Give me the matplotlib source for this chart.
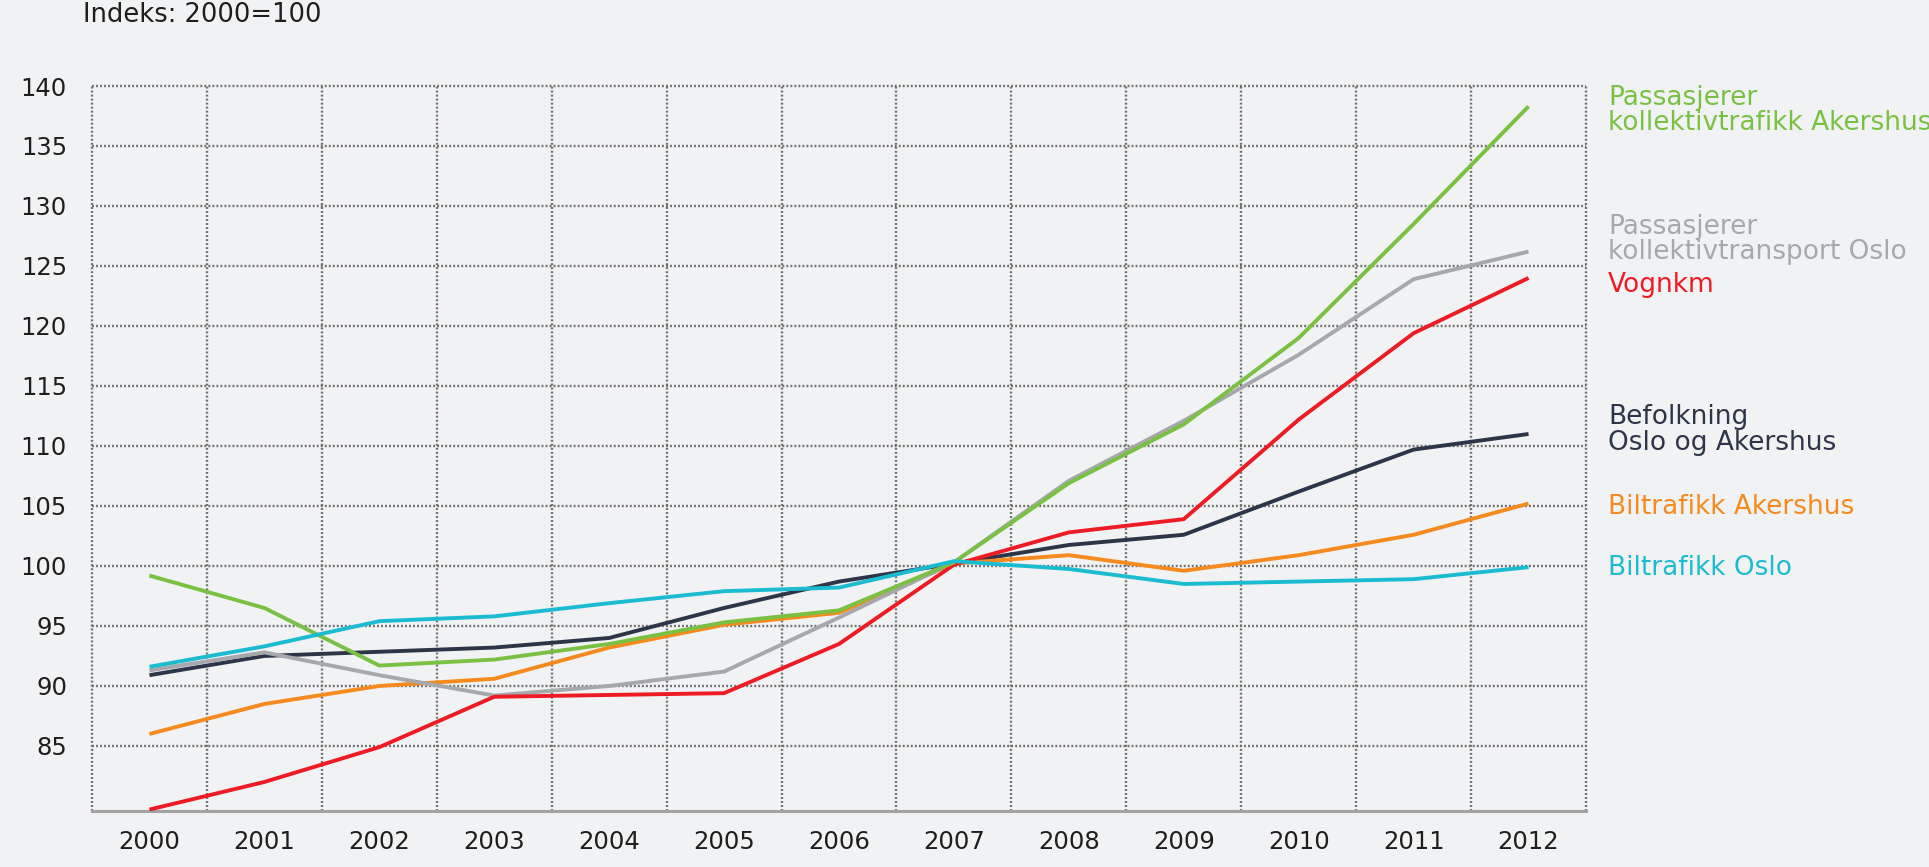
import matplotlib
matplotlib.use("Agg")
import matplotlib.pyplot as plt

# index values, 2000=100
years = [2000, 2001, 2002, 2003, 2004, 2005, 2006, 2007, 2008, 2009, 2010, 2011, 2012]
kollektiv_akershus = [99.2, 96.5, 91.7, 92.2, 93.5, 95.3, 96.3, 100.3, 106.9, 111.8, 119.0, 128.5, 138.3]
kollektiv_oslo = [91.3, 92.8, 90.9, 89.2, 90.0, 91.2, 95.7, 100.3, 107.1, 112.1, 117.6, 123.9, 126.2]
vognkm = [79.7, 82.0, 84.9, 89.1, 89.25, 89.4, 93.5, 100.1, 102.8, 103.9, 112.2, 119.4, 124.0]
befolkning = [90.9, 92.5, 92.85, 93.2, 94.0, 96.5, 98.7, 100.2, 101.75, 102.6, 106.2, 109.7, 111.0]
biltrafikk_akershus = [86.0, 88.5, 90.0, 90.6, 93.2, 95.1, 96.1, 100.2, 100.9, 99.6, 100.9, 102.6, 105.2]
biltrafikk_oslo = [91.6, 93.3, 95.4, 95.8, 96.9, 97.9, 98.2, 100.4, 99.75, 98.5, 98.7, 98.9, 99.9]

yticks = [85, 90, 95, 100, 105, 110, 115, 120, 125, 130, 135, 140]

series = [
    (befolkning, "#2d3648", "Befolkning\nOslo og Akershus", 430),
    (biltrafikk_akershus, "#f58a1f", "Biltrafikk Akershus", 507),
    (kollektiv_oslo, "#a6a8ab", "Passasjerer\nkollektivtransport Oslo", 239.5),
    (vognkm, "#ed1c24", "Vognkm", 285),
    (kollektiv_akershus, "#7ac143", "Passasjerer\nkollektivtrafikk Akershus", 110.5),
    (biltrafikk_oslo, "#1cbcd0", "Biltrafikk Oslo", 568),
]

W, H = 1929, 867
bg = "#f1f2f4"
fig = plt.figure(figsize=(W / 100, H / 100), dpi=100, facecolor=bg)
ax = fig.add_axes([92 / W, 1 - 811 / H, (1586 - 92) / W, (811 - 86) / H])
ax.set_facecolor(bg)

x = list(range(len(years)))
ax.set_xlim(-0.5, len(years) - 0.5)
ax.set_ylim(79.58, 140)

# dotted grid
for yv in yticks:
    ax.axhline(yv, color="#6e6e6e", lw=1.7, ls=(0, (0.8, 0.9)), zorder=1, clip_on=False)
for k in range(len(years) + 1):
    ax.axvline(k - 0.5, color="#6e6e6e", lw=1.7, ls=(0, (0.8, 0.9)), zorder=1, clip_on=False)

for vals, col, lab, ypix in series:
    ax.plot(x, vals, color=col, lw=2.8, zorder=3, solid_capstyle="butt")
    fig.text(1608 / W, 1 - ypix / H, lab, color=col, fontsize=19,
             ha="left", va="center", linespacing=0.95)

for s in ["left", "right", "top"]:
    ax.spines[s].set_visible(False)
ax.spines["bottom"].set_color("#a3a3a3")
ax.spines["bottom"].set_linewidth(2.2)

ax.set_xticks(x)
ax.set_xticklabels([str(y) for y in years])
ax.set_yticks(yticks)
ax.tick_params(axis="both", length=0, labelsize=17.5, labelcolor="#1e1e1e")
ax.tick_params(axis="x", pad=14)
ax.tick_params(axis="y", pad=18)

fig.text(83 / W, 1 - 15 / H, "Indeks: 2000=100", fontsize=18.5, color="#1e1e1e",
         ha="left", va="center")

fig.savefig("out.png", dpi=100, facecolor=bg)
